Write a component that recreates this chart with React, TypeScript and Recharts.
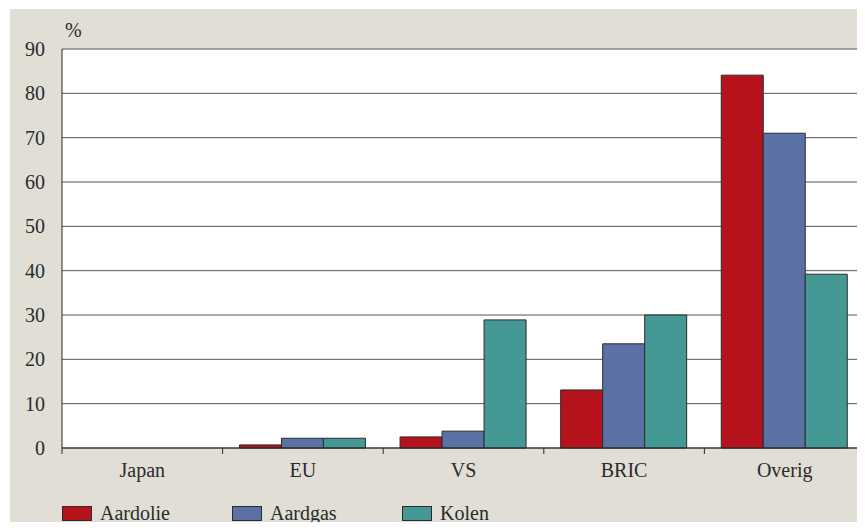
import { Bar, BarChart, CartesianGrid, Legend, XAxis, YAxis } from 'recharts';

const categories = ['Japan', 'EU', 'VS', 'BRIC', 'Overig'];
const aardolie = [0, 0.7, 2.5, 13.1, 84.1];
const aardgas = [0, 2.2, 3.8, 23.5, 71.0];
const kolen = [0, 2.2, 28.9, 30.0, 39.2];
const yTicks = [0, 10, 20, 30, 40, 50, 60, 70, 80, 90];
const seriesNames = ['Aardolie', 'Aardgas', 'Kolen'];
const seriesColors = ['#b5121b', '#5b71a6', '#459995'];

const data = categories.map((regio, i) => ({
  regio,
  Aardolie: aardolie[i],
  Aardgas: aardgas[i],
  Kolen: kolen[i],
}));

const FONT = '"Liberation Serif", "Times New Roman", serif';
const INK = '#2b2b2b';

function CategoryTick(props: any) {
  const { x, y, payload, index, visibleTicksCount } = props;
  const half = payload.offset ?? 0;
  const isLast = index === visibleTicksCount - 1;
  return (
    <g>
      <line x1={x - half} x2={x - half} y1={y} y2={y + 6} stroke={INK} />
      {isLast && <line x1={x + half} x2={x + half} y1={y} y2={y + 6} stroke={INK} />}
      <text x={x} y={y + 29} textAnchor="middle" fill={INK} fontSize={20} fontFamily={FONT}>
        {payload.value}
      </text>
    </g>
  );
}

// keep the series order instead of the alphabetical legend sort
function LegendRow() {
  return (
    <div style={{ display: 'flex', fontFamily: FONT, fontSize: 20, color: INK }}>
      {seriesNames.map((name, i) => (
        <div key={name} style={{ display: 'flex', alignItems: 'center', width: 170 }}>
          <span
            style={{
              display: 'inline-block',
              width: 28,
              height: 13,
              background: seriesColors[i],
              border: `1px solid ${INK}`,
              marginRight: 8,
            }}
          />
          <span>{name}</span>
        </div>
      ))}
    </div>
  );
}

export default function App() {
  return (
    <div style={{ position: 'relative', width: 865, height: 530, margin: -8, background: '#fff', overflow: 'hidden' }}>
      <div style={{ position: 'absolute', top: -13, left: 0, fontFamily: FONT, fontSize: 20, lineHeight: '20px', color: INK }}>
        11. Bewezen reserves
      </div>
      <div style={{ position: 'absolute', left: 10, top: 9, right: 0, bottom: 0, background: '#e1ded6' }} />
      <div style={{ position: 'absolute', left: 65, top: 20, fontFamily: FONT, fontSize: 20, lineHeight: '20px', color: INK }}>
        %
      </div>
      <div style={{ position: 'absolute', left: 0, top: 0 }}>
        <BarChart
          width={865}
          height={530}
          data={data}
          margin={{ top: 49, right: 0, bottom: 22, left: 0 }}
          barCategoryGap="10.5%"
          barGap={0}
        >
          <CartesianGrid vertical={false} stroke="#555" fill="#fff" />
          <XAxis
            dataKey="regio"
            height={36}
            tickSize={0}
            tickMargin={0}
            tickLine={false}
            axisLine={{ stroke: INK }}
            tick={<CategoryTick />}
            interval={0}
          />
          <YAxis
            width={62}
            domain={[0, 90]}
            ticks={yTicks}
            tickSize={0}
            tickMargin={17}
            tickLine={false}
            axisLine={{ stroke: INK }}
            tick={{ fill: INK, fontSize: 20, fontFamily: FONT }}
          />
          <Legend
            verticalAlign="bottom"
            content={<LegendRow />}
            wrapperStyle={{ top: 502, left: 62, height: 24, width: 700 }}
          />
          {seriesNames.map((name, i) => (
            <Bar key={name} dataKey={name} fill={seriesColors[i]} stroke={INK} strokeWidth={1} isAnimationActive={false} />
          ))}
        </BarChart>
      </div>
    </div>
  );
}
